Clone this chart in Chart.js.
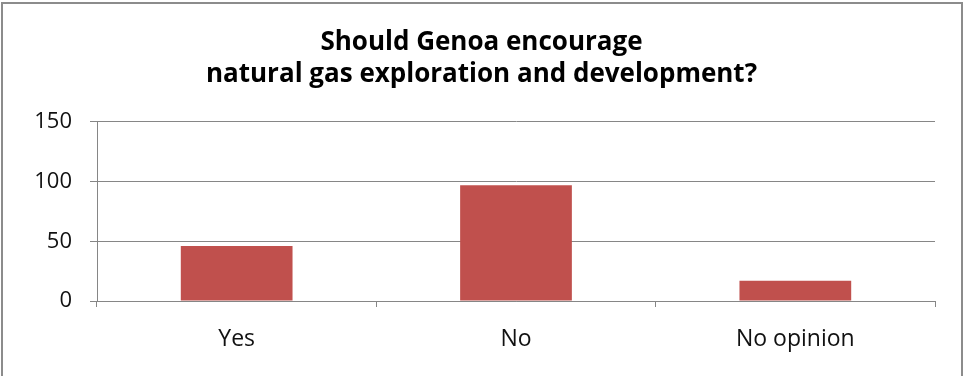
<!DOCTYPE html>
<html>
<head>
<meta charset="utf-8">
<script src="https://cdn.jsdelivr.net/npm/chart.js@4"></script>
<style>
  html, body { margin: 0; padding: 0; background: #fff; overflow: hidden; }
  #wrap { position: relative; width: 963px; height: 376px; }
  #frame {
    position: absolute; left: 1px; top: 2px; width: 958px; height: 400px;
    border: 2px solid #8c8c8c; border-bottom: none; pointer-events: none;
  }
  canvas { position: absolute; left: 0; top: 0; }
</style>
</head>
<body>
<div id="wrap">
  <canvas id="chart" width="963" height="376"></canvas>
  <div id="frame"></div>
</div>
<script>
var categories = ['Yes', 'No', 'No opinion'];
var answers = [46, 97, 17];
var yTicks = [0, 50, 100, 150];

var ctx = document.getElementById('chart');
new Chart(ctx, {
    type: 'bar',
    data: {
        labels: categories,
        datasets: [{
            data: answers,
            backgroundColor: '#C0504D',
            borderWidth: 0,
            barPercentage: 0.4,
            categoryPercentage: 1
        }]
    },
    options: {
        responsive: false,
        animation: false,
        layout: { padding: { left: 28, right: 28, top: 0, bottom: 0 } },
        plugins: {
            legend: { display: false },
            tooltip: { enabled: false },
            title: {
                display: true,
                text: ['Should Genoa encourage', 'natural gas exploration and development?'],
                color: '#000',
                font: { family: 'Open Sans', size: 26, weight: 'bold', lineHeight: 1.23 },
                padding: { top: 27, bottom: 31 }
            }
        },
        scales: {
            x: {
                grid: {
                    display: true,
                    drawOnChartArea: false,
                    drawTicks: true,
                    tickLength: 6,
                    color: '#868686'
                },
                border: { display: true, color: '#868686' },
                ticks: {
                    color: '#111',
                    padding: 19,
                    font: { family: 'Open Sans', size: 23 }
                },
                afterFit: function(scale) { scale.height = 75; }
            },
            y: {
                min: 0,
                max: 150,
                afterBuildTicks: function(scale) {
                    scale.ticks = yTicks.map(function(v) { return { value: v }; });
                },
                grid: {
                    color: '#868686',
                    tickLength: 7,
                    drawTicks: true
                },
                border: { display: true, color: '#868686' },
                ticks: {
                    color: '#111',
                    padding: 18,
                    font: { family: 'Open Sans', size: 22 }
                },
                afterFit: function(scale) { scale.width = 69; }
            }
        }
    }
});
</script>
</body>
</html>
